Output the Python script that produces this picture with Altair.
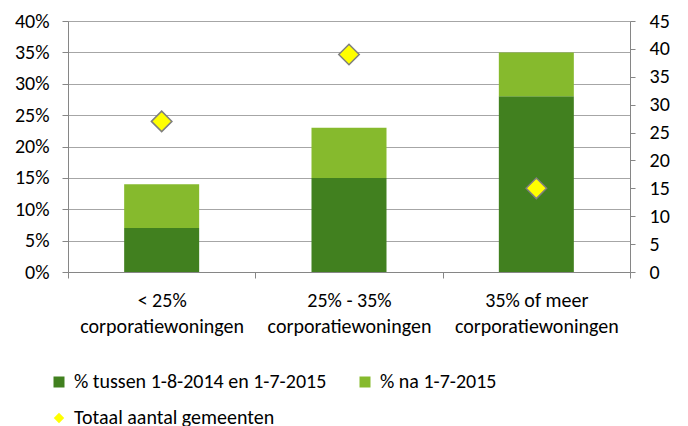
import altair as alt
import pandas as pd

categories = ["< 25%|corporatiewoningen", "25% - 35%|corporatiewoningen", "35% of meer|corporatiewoningen"]
series_names = ["% tussen 1-8-2014 en 1-7-2015", "% na 1-7-2015"]
dark_values = [0.07, 0.15, 0.28]
light_values = [0.07, 0.08, 0.07]
total_name = "Totaal aantal gemeenten"
totals = [27, 39, 15]
colors = ["#41801F", "#86BA2D"]

FONT = "Carlito, Lato, Liberation Sans, sans-serif"
FS = 20
GRAY = "#868686"

rows = []
for i, c in enumerate(categories):
    rows.append({"cat": c, "serie": series_names[0], "val": dark_values[i], "k": 0})
    rows.append({"cat": c, "serie": series_names[1], "val": light_values[i], "k": 1})
bars_df = pd.DataFrame(rows)
pts_df = pd.DataFrame({"cat": categories, "total": totals, "serie": [total_name] * 3})

x_enc = alt.X(
    "cat:N",
    sort=categories,
    scale=alt.Scale(paddingInner=0, paddingOuter=0),
    axis=alt.Axis(
        title=None,
        labelAngle=0,
        labelExpr="split(datum.label, '|')",
        labelFont=FONT,
        labelFontSize=FS,
        labelColor="#000000",
        labelPadding=12,
        labelLineHeight=26,
        labelLimit=0,
        tickBand="extent",
        tickSize=6,
        tickColor=GRAY,
        domainColor=GRAY,
        grid=False,
    ),
)

bars = alt.Chart(bars_df).mark_bar(size=75).encode(
    x=x_enc,
    y=alt.Y(
        "val:Q",
        stack="zero",
        scale=alt.Scale(domain=[0, 0.4], nice=False),
        axis=alt.Axis(
            title=None,
            values=[0, 0.05, 0.1, 0.15, 0.2, 0.25, 0.3, 0.35, 0.4],
            format=".0%",
            labelFont=FONT,
            labelFontSize=FS,
            labelColor="#000000",
            labelPadding=13,
            tickSize=6,
            tickColor=GRAY,
            domainColor=GRAY,
            grid=True,
            gridColor="#A6A6A6",
            gridWidth=1,
        ),
    ),
    color=alt.Color(
        "serie:N",
        scale=alt.Scale(domain=series_names, range=colors),
        legend=alt.Legend(
            title=None,
            orient="none",
            legendX=-19,
            legendY=351,
            direction="horizontal",
            columns=2,
            columnPadding=28,
            symbolType="square",
            symbolSize=121,
            symbolStrokeWidth=0,
            labelFont=FONT,
            labelFontSize=FS,
            labelColor="#000000",
            labelOffset=5,
            labelLimit=0,
        ),
    ),
    order=alt.Order("k:Q", sort="ascending"),
)

points = alt.Chart(pts_df).mark_point(
    filled=True, fill="#FFFF00", stroke="#7F7F7F", strokeWidth=1.5, size=420, opacity=1
).encode(
    x=alt.X("cat:N", sort=categories),
    y=alt.Y(
        "total:Q",
        scale=alt.Scale(domain=[0, 45], nice=False),
        axis=alt.Axis(
            title=None,
            orient="right",
            values=list(range(0, 50, 5)),
            labelFont=FONT,
            labelFontSize=FS,
            labelColor="#000000",
            labelPadding=14,
            tickSize=5,
            tickColor=GRAY,
            domainColor=GRAY,
            grid=False,
        ),
    ),
    shape=alt.Shape(
        "serie:N",
        scale=alt.Scale(domain=[total_name], range=["diamond"]),
        legend=alt.Legend(
            title=None,
            orient="none",
            legendX=-19,
            legendY=387,
            symbolSize=110,
            symbolFillColor="#FFFF00",
            symbolStrokeColor="#7F7F7F",
            symbolStrokeWidth=1.2,
            labelFont=FONT,
            labelFontSize=FS,
            labelColor="#000000",
            labelOffset=5,
            labelLimit=0,
        ),
    ),
)

chart = (
    alt.layer(bars, points)
    .resolve_scale(y="independent", color="independent", shape="independent")
    .properties(
        width=562,
        height=251,
        autosize=alt.AutoSizeParams(type="none"),
        padding={"left": 60, "top": 13, "right": 50, "bottom": 154},
    )
    .configure_view(stroke=None)
    .configure(background="#FFFFFF")
)

chart.save("out.html", embed_options={"renderer": "svg", "actions": False})
